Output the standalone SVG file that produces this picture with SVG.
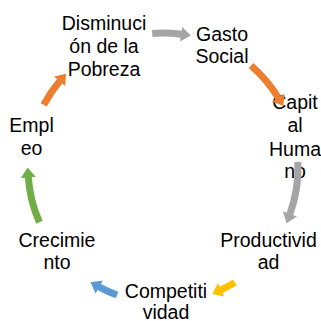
<svg xmlns="http://www.w3.org/2000/svg" width="321" height="321" viewBox="0 0 321 321">
<style>
  .t { font-family: "Liberation Sans", Arial, sans-serif; font-size: 19.5px; fill: #000; text-anchor: middle; }
  .a { fill: none; stroke-width: 7; stroke-linecap: butt; }
</style>
<defs>
  <marker id="hGray" viewBox="0 -8 10 16" markerUnits="userSpaceOnUse" markerWidth="10" markerHeight="16" refX="0.5" refY="0" orient="auto"><path d="M0,-7.5 L10,0 L0,7.5 Z" fill="#A5A5A5"/></marker>
  <marker id="hOrange" viewBox="0 -8 10 16" markerUnits="userSpaceOnUse" markerWidth="10" markerHeight="16" refX="0.5" refY="0" orient="auto"><path d="M0,-7.5 L10,0 L0,7.5 Z" fill="#ED7D31"/></marker>
  <marker id="hYellow" viewBox="0 -8 10 16" markerUnits="userSpaceOnUse" markerWidth="10" markerHeight="16" refX="0.5" refY="0" orient="auto"><path d="M0,-7.5 L10,0 L0,7.5 Z" fill="#FFC000"/></marker>
  <marker id="hBlue" viewBox="0 -8 10 16" markerUnits="userSpaceOnUse" markerWidth="10" markerHeight="16" refX="0.5" refY="0" orient="auto"><path d="M0,-7.5 L10,0 L0,7.5 Z" fill="#5B9BD5"/></marker>
  <marker id="hGreen" viewBox="0 -8 10 16" markerUnits="userSpaceOnUse" markerWidth="10" markerHeight="16" refX="0.5" refY="0" orient="auto"><path d="M0,-7.5 L10,0 L0,7.5 Z" fill="#70AD47"/></marker>
</defs>
<rect width="321" height="321" fill="#fff"/>
<g id="n1"><text class="t" x="104" y="30">Disminuci</text><text class="t" x="104" y="53">ón de la</text><text class="t" x="104" y="76">Pobreza</text></g>
<g id="n2"><text class="t" x="222" y="41">Gasto</text><text class="t" x="222" y="63">Social</text></g>
<g id="n3"><text class="t" x="295" y="108.5">Capit</text><text class="t" x="295" y="132">al</text><text class="t" x="295" y="155.5">Huma</text><text class="t" x="295" y="178">no</text></g>
<g id="n4"><text class="t" x="268.5" y="247">Productivid</text><text class="t" x="268.5" y="269">ad</text></g>
<g id="n5"><text class="t" x="166" y="298">Competiti</text><text class="t" x="166" y="318.5">vidad</text></g>
<g id="n6"><text class="t" x="57" y="247">Crecimie</text><text class="t" x="57" y="269">nto</text></g>
<g id="n7"><text class="t" x="31.5" y="132">Empl</text><text class="t" x="31.5" y="155">eo</text></g>
<g id="connectors">
  <path class="a" stroke="#A5A5A5" marker-end="url(#hGray)" d="M152.17,33.43 A135,135 0 0 1 181.46,34.27"/>
  <path class="a" stroke="#ED7D31" marker-end="url(#hOrange)" d="M251.03,65.66 A135,135 0 0 1 278.41,97.98"/>
  <path class="a" stroke="#A5A5A5" marker-end="url(#hGray)" d="M297.86,161.87 A135,135 0 0 1 289.81,214.30"/>
  <path class="a" stroke="#FFC000" marker-end="url(#hYellow)" d="M234.74,282.36 A135,135 0 0 1 220.78,290.01"/>
  <path class="a" stroke="#5B9BD5" marker-end="url(#hBlue)" d="M117.05,294.94 A135,135 0 0 1 98.88,286.80"/>
  <path class="a" stroke="#70AD47" marker-end="url(#hGreen)" d="M39.38,222.27 A135,135 0 0 1 28.30,177.04"/>
  <path class="a" stroke="#ED7D31" marker-end="url(#hOrange)" d="M43.69,104.83 A135,135 0 0 1 59.85,80.91"/>
</g>
</svg>
